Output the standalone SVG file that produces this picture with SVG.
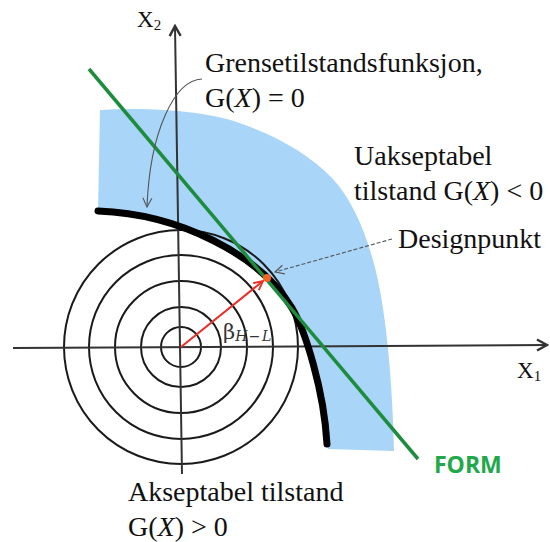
<svg xmlns="http://www.w3.org/2000/svg" width="550" height="542" viewBox="0 0 550 542">
<style>
.lbl{font-family:"Liberation Serif","Times New Roman",serif;font-size:28px;fill:#111}
.ax{font-family:"Liberation Serif","Times New Roman",serif;fill:#111}
.ring{fill:none;stroke:#1a1a1a;stroke-width:2}
.axis{fill:none;stroke:#333;stroke-width:2}
.lead{fill:none;stroke:#555;stroke-width:1.1}
</style>
<defs>
<marker id="mAx" markerUnits="userSpaceOnUse" viewBox="0 0 14 14" refX="12" refY="7" markerWidth="14" markerHeight="14" orient="auto">
<path d="M2,1.5 L12,7 L2,12.5" fill="none" stroke="#333" stroke-width="2.4" stroke-linejoin="miter"/>
</marker>
<marker id="mRed" markerUnits="userSpaceOnUse" viewBox="0 0 12 12" refX="11" refY="6" markerWidth="12" markerHeight="12" orient="auto">
<path d="M2,1.5 L11,6 L2,10.5" fill="none" stroke="#e8302a" stroke-width="1.8"/>
</marker>
<marker id="mLead" markerUnits="userSpaceOnUse" viewBox="0 0 12 12" refX="11" refY="6" markerWidth="12" markerHeight="12" orient="auto">
<path d="M2,1.5 L11,6 L2,10.5" fill="none" stroke="#555" stroke-width="1.1"/>
</marker>
</defs>

<g id="unsafe-region">
<path d="M100,110 C150,107 210,111 245,125 C280,138 310,155 332,178 C350,197 363,225 373,260 C383,295 392,360 394,451 L328,449 L327,444 C324,390 305,330 292,308 C260,255 180,214 98,211 Z" fill="#a9d5f9"/>
</g>

<g id="circles">
<circle class="ring" cx="181" cy="347" r="20"/>
<circle class="ring" cx="181" cy="347" r="40"/>
<circle class="ring" cx="181" cy="347" r="66"/>
<circle class="ring" cx="181" cy="347" r="92"/>
<circle class="ring" cx="181" cy="347" r="117" stroke-width="1.6"/>
</g>

<g id="axes">
<line class="axis" x1="13" y1="348" x2="547" y2="345" marker-end="url(#mAx)"/>
<line class="axis" x1="182" y1="474" x2="175" y2="26" marker-end="url(#mAx)"/>
</g>

<g id="limit-state-curve">
<path d="M98,211 C180,214 260,255 292,308 C305,330 324,390 327,444" fill="none" stroke="#000" stroke-width="7" stroke-linecap="round"/>
</g>

<g id="form-line">
<line x1="89" y1="69" x2="418" y2="459" stroke="#1d8c3c" stroke-width="3.5"/>
</g>

<g id="connectors">
<line x1="181" y1="347" x2="263" y2="281" stroke="#e8302a" stroke-width="2" marker-end="url(#mRed)"/>
<path class="lead" d="M202,79 C175,80 150,130 147,207" marker-end="url(#mLead)"/>
<line class="lead" x1="392" y1="239" x2="275" y2="272" stroke-dasharray="4 2" marker-end="url(#mLead)"/>
</g>

<g id="design-point">
<circle cx="267" cy="278" r="4" fill="#f26522"/>
</g>

<g id="label-x2">
<text class="ax" x="137" y="27" font-size="23">X<tspan font-size="15" dy="3">2</tspan></text>
</g>
<g id="label-x1">
<text class="ax" x="517" y="378" font-size="23">X<tspan font-size="15" dy="3">1</tspan></text>
</g>
<g id="label-limit">
<text class="lbl" x="205" y="72" font-size="27.5">Grensetilstandsfunksjon,</text>
<text class="lbl" x="205" y="107">G(<tspan font-style="italic">X</tspan>) = 0</text>
</g>
<g id="label-unsafe">
<text class="lbl" x="354" y="165">Uakseptabel</text>
<text class="lbl" x="354" y="200">tilstand G(<tspan font-style="italic">X</tspan>) &lt; 0</text>
</g>
<g id="label-design">
<text class="lbl" x="398" y="248">Designpunkt</text>
</g>
<g id="label-safe">
<text class="lbl" x="128" y="501">Akseptabel tilstand</text>
<text class="lbl" x="128" y="536">G(<tspan font-style="italic">X</tspan>) &gt; 0</text>
</g>
<g id="label-beta">
<text x="223" y="339" font-family="'DejaVu Serif','Liberation Serif',serif" font-size="21" fill="#333">β<tspan font-size="14" font-style="italic" dy="2" letter-spacing="1.5">H−L</tspan></text>
</g>
<g id="label-form">
<text x="434" y="473" font-family="'Open Sans','Liberation Sans',sans-serif" font-weight="bold" font-size="23" fill="#21a84a">FORM</text>
</g>
</svg>
